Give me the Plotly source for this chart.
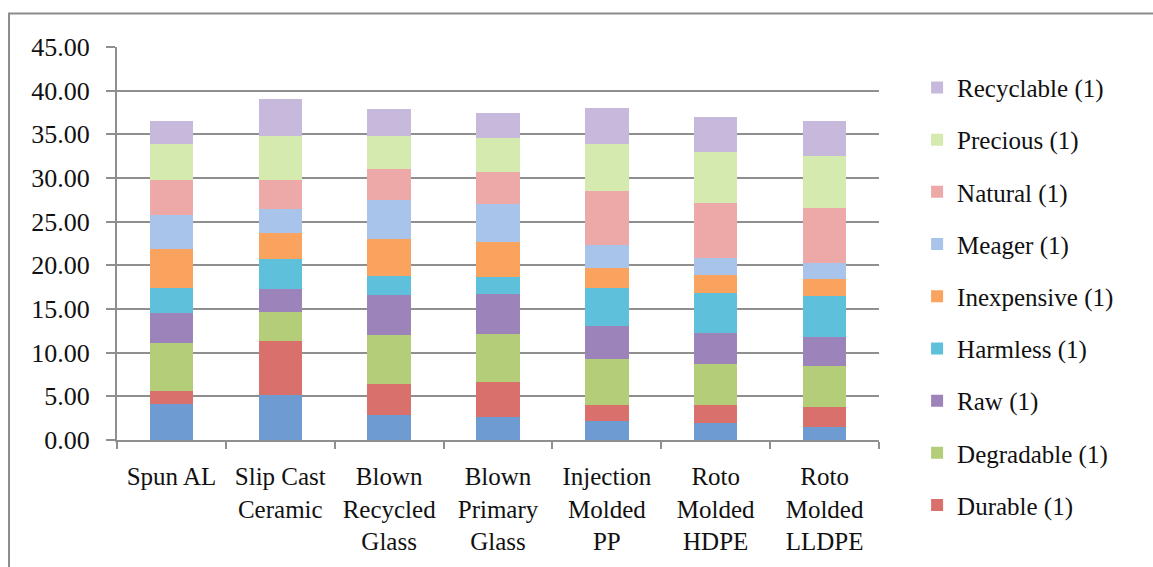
import plotly.graph_objects as go

categories = ["Spun AL", "Slip Cast<br>Ceramic", "Blown<br>Recycled<br>Glass", "Blown<br>Primary<br>Glass",
              "Injection<br>Molded<br>PP", "Roto<br>Molded<br>HDPE", "Roto<br>Molded<br>LLDPE"]

# series listed bottom -> top
unlabeled = [4.14, 5.13, 2.85, 2.66, 2.21, 1.90, 1.45]
durable = [1.44, 6.26, 3.61, 3.99, 1.78, 2.09, 2.35]
degradable = [5.55, 3.23, 5.58, 5.50, 5.24, 4.75, 4.67]
raw = [3.38, 2.66, 4.55, 4.56, 3.80, 3.53, 3.38]
harmless = [2.88, 3.49, 2.20, 2.01, 4.36, 4.55, 4.66]
inexpensive = [4.52, 2.96, 4.18, 3.95, 2.36, 2.05, 1.91]
meager = [3.91, 2.74, 4.56, 4.37, 2.62, 2.02, 1.90]
natural = [3.99, 3.34, 3.49, 3.68, 6.10, 6.26, 6.26]
precious = [4.10, 5.01, 3.80, 3.90, 5.44, 5.88, 5.99]
recyclable = [2.62, 4.18, 3.04, 2.78, 4.06, 3.92, 3.96]

series = [
    ("Series (1)", unlabeled, "#6f9bd3", False),
    ("Durable (1)", durable, "#d9706c", True),
    ("Degradable (1)", degradable, "#b3cd78", True),
    ("Raw (1)", raw, "#9c84bb", True),
    ("Harmless (1)", harmless, "#5ec0da", True),
    ("Inexpensive (1)", inexpensive, "#f9a35e", True),
    ("Meager (1)", meager, "#a9c4ea", True),
    ("Natural (1)", natural, "#eda9a8", True),
    ("Precious (1)", precious, "#d4eaae", True),
    ("Recyclable (1)", recyclable, "#c7b9dc", True),
]

FONT = "Liberation Serif"
GRID = "#8f8f8f"

fig = go.Figure()
for i, (name, vals, color, show) in enumerate(series):
    fig.add_trace(go.Bar(
        x=categories, y=vals, name=name, showlegend=show, legendgroup=name,
        legendrank=1000 - i,
        marker=dict(color=color, line=dict(width=0)),
    ))

fig.update_layout(
    width=1153, height=567, autosize=False,
    barmode="stack", bargap=0.6,
    plot_bgcolor="white", paper_bgcolor="white",
    margin=dict(l=117, r=274, t=47, b=125),
    font=dict(family=FONT, size=25, color="#111111"),
    legend=dict(
        traceorder="grouped", tracegroupgap=16.7,
        x=1.05, xanchor="left", y=0.955, yanchor="top",
        maxheight=600,
        font=dict(family=FONT, size=25, color="#111111"),
        bgcolor="rgba(0,0,0,0)", itemclick=False,
    ),
    xaxis=dict(
        showgrid=False, showline=True, linecolor=GRID, linewidth=2,
        ticks="outside", ticklen=7, tickcolor=GRID, tickwidth=2,
        tickson="boundaries", ticklabelstandoff=13,
        tickfont=dict(family=FONT, size=25, color="#111111"),
    ),
    yaxis=dict(
        range=[0, 45], dtick=5, tickformat=".2f",
        showgrid=True, gridcolor=GRID, gridwidth=2,
        showline=True, linecolor=GRID, linewidth=2,
        ticks="outside", ticklen=9, tickcolor=GRID, tickwidth=2,
        ticklabelstandoff=11, zeroline=False,
        tickfont=dict(family=FONT, size=26, color="#111111"),
    ),
    shapes=[dict(type="rect", xref="paper", yref="paper",
                 x0=-0.1417, x1=1.4, y0=-0.4, y1=1.0853,
                 line=dict(color="#8c8c8c", width=2), fillcolor="rgba(0,0,0,0)",
                 layer="below")],
)

fig.write_html("out.html", config={"displayModeBar": False},
               post_script="document.body.style.margin='0';document.body.style.overflow='hidden';")
